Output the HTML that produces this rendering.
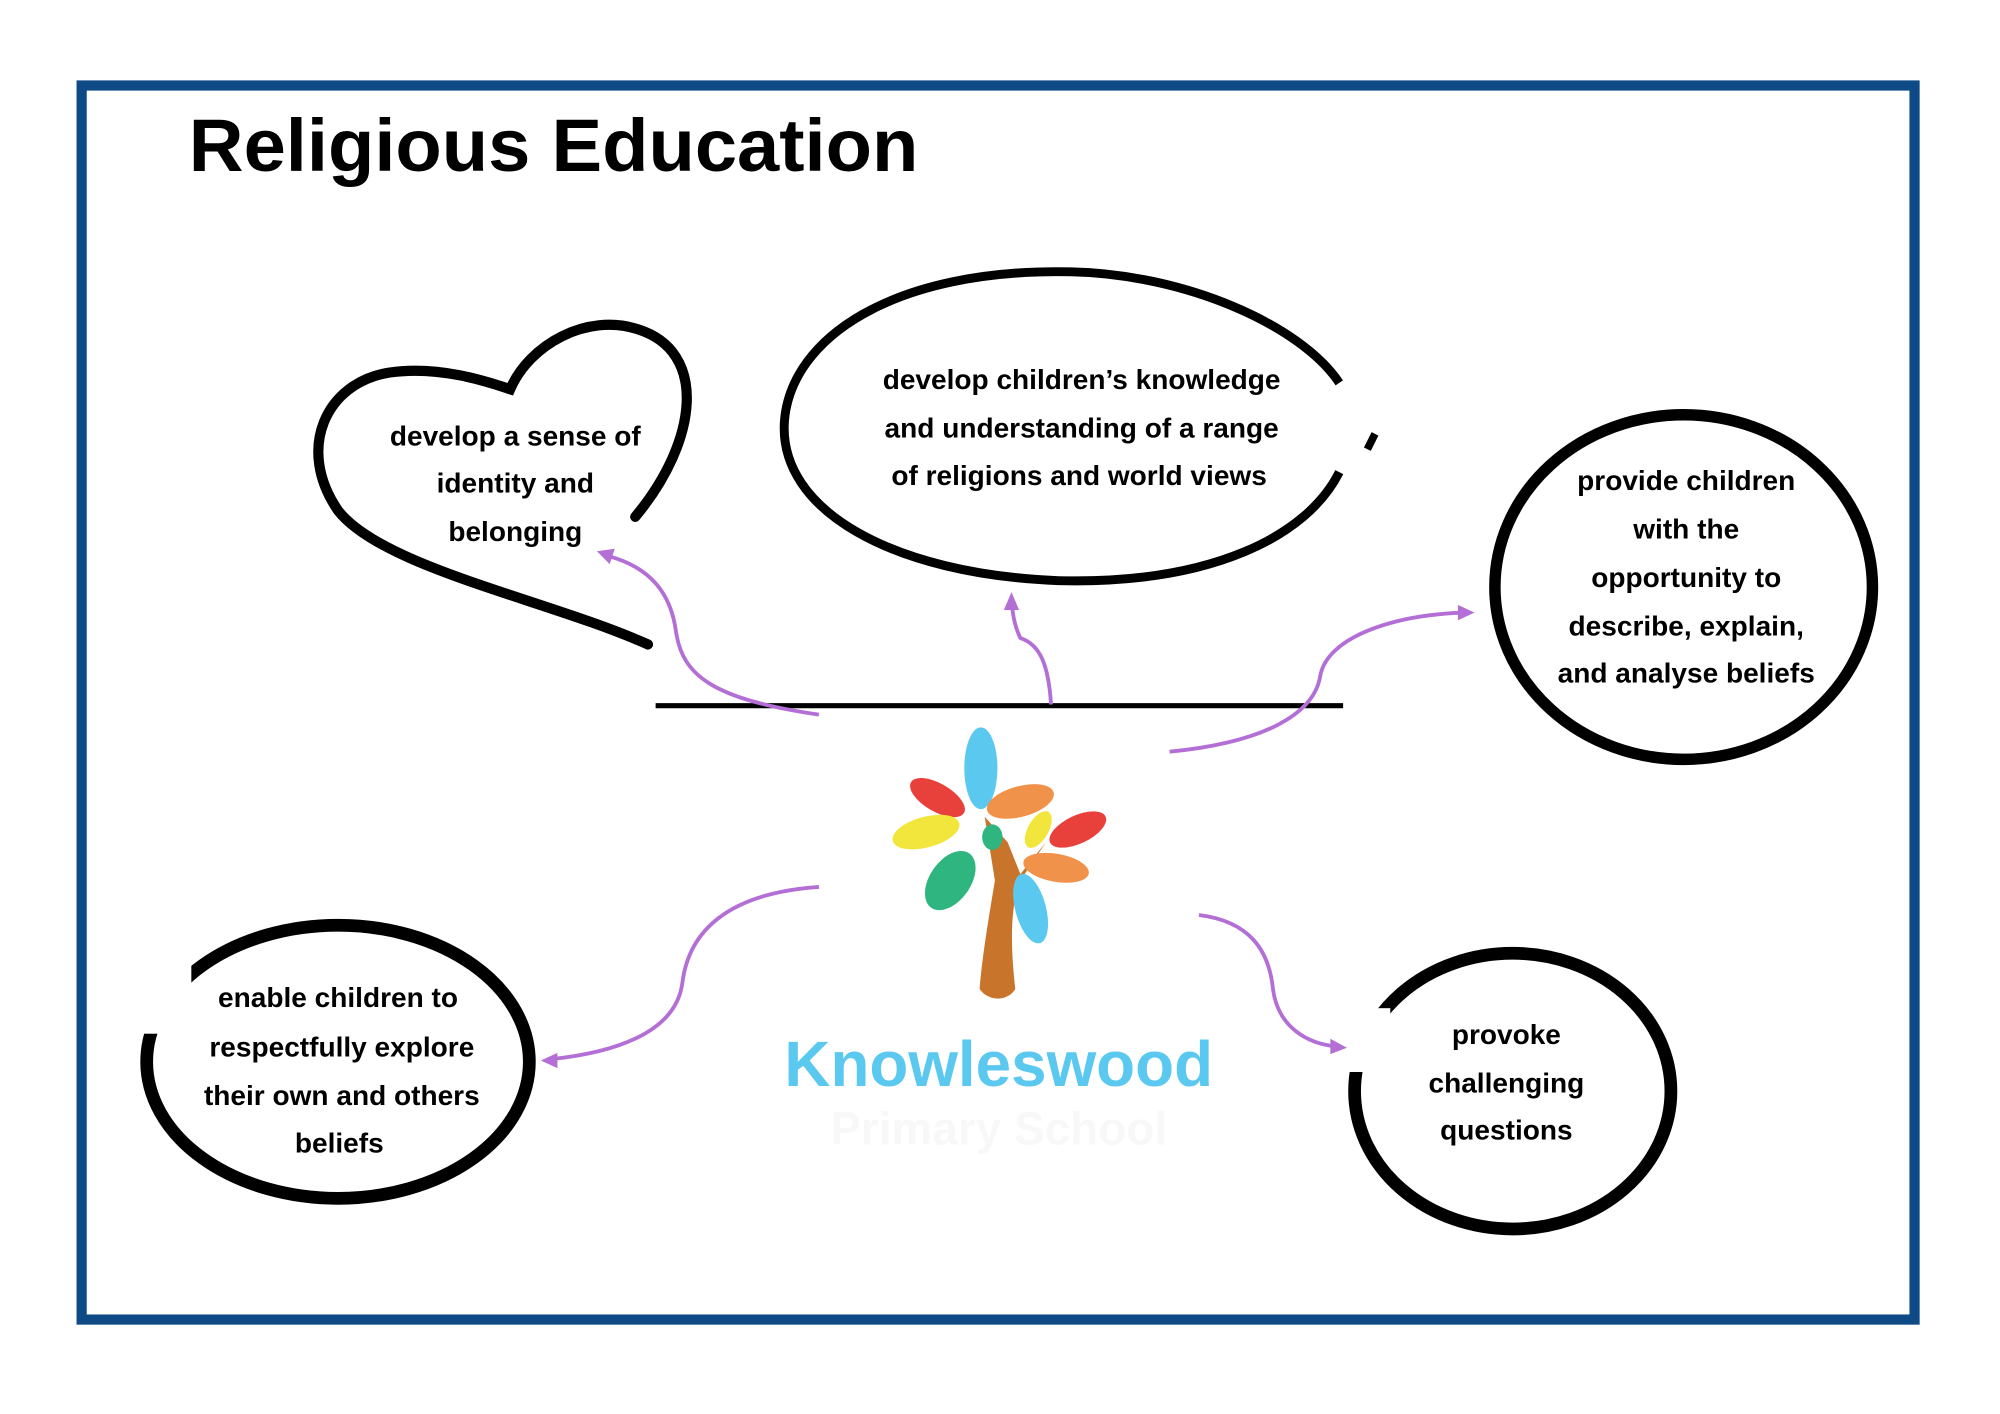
<!DOCTYPE html>
<html><head><meta charset="utf-8"><style>
html,body{margin:0;padding:0;background:#fff;}
svg{display:block;}
text{font-family:"Liberation Sans",sans-serif;font-weight:bold;}
</style></head><body>
<svg width="2000" height="1414" viewBox="0 0 1568 1108" preserveAspectRatio="none" xmlns="http://www.w3.org/2000/svg">
<rect x="0" y="0" width="1568" height="1108" fill="#fff"/>
<rect x="64" y="67" width="1437" height="967" fill="none" stroke="#0d4a86" stroke-width="8"/>
<text x="148" y="134" font-size="58" fill="#000" textLength="572" lengthAdjust="spacingAndGlyphs">Religious Education</text>

<line x1="514" y1="553" x2="1053" y2="553" stroke="#000" stroke-width="4"/>

<!-- heart -->
<path d="M508,505 C430,470 300,445 265,400 C232,352 255,300 305,292 C345,286 385,300 400,305 C415,270 460,245 500,258 C555,275 548,345 498,405" fill="none" stroke="#000" stroke-width="8" stroke-linecap="round"/>
<!-- top ellipse -->
<path d="M1050,300 C1020,255 930,215 840,213 C700,210 620,265 615,330 C610,400 700,450 830,455 C950,458 1025,420 1050,370" fill="none" stroke="#000" stroke-width="7"/>
<line x1="1078" y1="340" x2="1072" y2="352" stroke="#000" stroke-width="6"/>
<!-- right circle -->
<ellipse cx="1320" cy="460" rx="148" ry="135" fill="none" stroke="#000" stroke-width="9"/>
<!-- bottom-left -->
<ellipse cx="265" cy="832" rx="150" ry="107" fill="none" stroke="#000" stroke-width="10"/>
<!-- bottom-right -->
<ellipse cx="1186" cy="855" rx="124" ry="108" fill="none" stroke="#000" stroke-width="10"/>
<rect x="1050" y="790" width="40" height="50" fill="#fff"/>
<rect x="110" y="750" width="40" height="60" fill="#fff"/>

<!-- text -->
<g font-size="22" fill="#000" text-anchor="middle">
<text x="404" y="349">develop a sense of</text>
<text x="404" y="386">identity and</text>
<text x="404" y="424">belonging</text>
<text x="848" y="305">develop children’s knowledge</text>
<text x="848" y="343">and understanding of a range</text>
<text x="846" y="380">of religions and world views</text>
<text x="1322" y="384">provide children</text>
<text x="1322" y="422">with the</text>
<text x="1322" y="460">opportunity to</text>
<text x="1322" y="498">describe, explain,</text>
<text x="1322" y="535">and analyse beliefs</text>
<text x="265" y="789">enable children to</text>
<text x="268" y="828">respectfully explore</text>
<text x="268" y="866">their own and others</text>
<text x="266" y="903">beliefs</text>
<text x="1181" y="818">provoke</text>
<text x="1181" y="856">challenging</text>
<text x="1181" y="893">questions</text>
</g>

<!-- arrows -->
<g fill="none" stroke="#b36fd6" stroke-width="3">
<path d="M642,560 C560,548 535,530 530,495 C526,465 510,445 478,436"/>
<path d="M824,552 C822,520 815,505 800,500 C795,490 794,480 793,472"/>
<path d="M917,589 C990,582 1030,560 1035,530 C1040,500 1090,482 1148,480"/>
<path d="M642,695 C570,700 540,730 535,770 C530,810 480,825 432,830"/>
<path d="M940,717 C980,722 995,745 998,775 C1002,805 1025,818 1048,820"/>
</g>
<g fill="#b36fd6">
<polygon points="468,432 482,430 478,442"/>
<polygon points="793,464 787,478 799,478"/>
<polygon points="1156,480 1143,474 1143,486"/>
<polygon points="424,831 437,825 437,837"/>
<polygon points="1056,821 1043,814 1043,826"/>
</g>

<!-- tree logo -->
<g>
<path d="M772,640 L780,690 C775,720 770,750 768,775 C775,785 790,785 796,775 C792,740 792,710 800,690 L820,660 L800,685 L790,660 Z" fill="#c8742b"/>
<ellipse cx="769" cy="602" rx="13" ry="32" fill="#5bc8ef"/>
<ellipse cx="735" cy="625" rx="24" ry="11" fill="#e8403b" transform="rotate(30 735 625)"/>
<ellipse cx="800" cy="628" rx="27" ry="12" fill="#f0924a" transform="rotate(-15 800 628)"/>
<ellipse cx="845" cy="650" rx="24" ry="11" fill="#e8403b" transform="rotate(-25 845 650)"/>
<ellipse cx="726" cy="652" rx="27" ry="12" fill="#f2e53b" transform="rotate(-15 726 652)"/>
<ellipse cx="814" cy="650" rx="8" ry="16" fill="#f2e53b" transform="rotate(30 814 650)"/>
<ellipse cx="778" cy="656" rx="8" ry="10" fill="#2fb57f"/>
<ellipse cx="745" cy="690" rx="16" ry="26" fill="#2fb57f" transform="rotate(35 745 690)"/>
<ellipse cx="828" cy="680" rx="26" ry="11" fill="#f0924a" transform="rotate(10 828 680)"/>
<ellipse cx="808" cy="712" rx="12" ry="28" fill="#5bc8ef" transform="rotate(-15 808 712)"/>
</g>
<text x="783" y="851" font-size="50" fill="#5bc8ef" text-anchor="middle">Knowleswood</text>
<text x="783" y="897" font-size="36" fill="#f8f8f8" text-anchor="middle" font-weight="normal">Primary School</text>
</svg>
</body></html>
